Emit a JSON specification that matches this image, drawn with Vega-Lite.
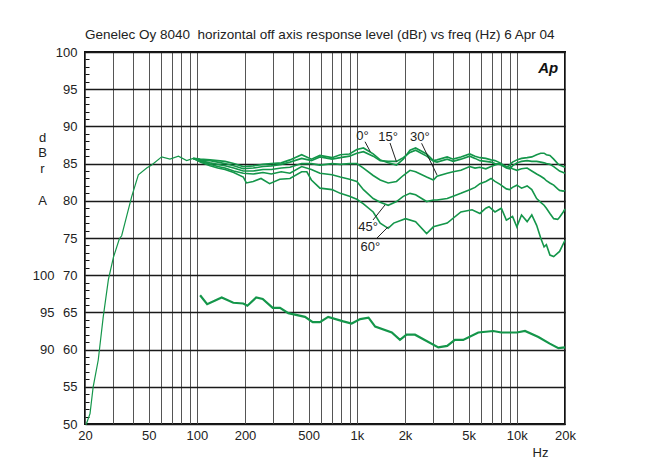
{
  "$schema": "https://vega.github.io/schema/vega-lite/v6.json",
  "width": 480,
  "height": 372,
  "autosize": {"type": "none"},
  "padding": {"left": 85, "top": 52, "right": 97, "bottom": 36},
  "background": "white",
  "config": {
    "view": {"stroke": "#111", "strokeWidth": 2},
    "font": "Liberation Sans",
    "axis": {"labelFont": "Liberation Sans", "titleFont": "Liberation Sans", "labelFontSize": 13, "titleFontSize": 13, "titleFontWeight": "normal", "labelColor": "#222", "titleColor": "#222"}
  },
  "title": {"text": "Genelec Oy 8040\u00a0 horizontal off axis response level (dBr) vs freq (Hz) 6 Apr 04", "anchor": "start", "frame": "group", "font": "Liberation Sans", "fontSize": 13.5, "fontWeight": "normal", "color": "#222", "offset": 5},
  "datasets": {
    "lf": [
      {"f": 20.3, "db": 49.9}, {"f": 21.5, "db": 51.4}, {"f": 22.5, "db": 55.0}, {"f": 24.2, "db": 58.6}, {"f": 26.0, "db": 64.4}, {"f": 28.0, "db": 69.4}, {"f": 30.1, "db": 72.4}, {"f": 32.8, "db": 74.9}, {"f": 33.9, "db": 75.3}, {"f": 36.4, "db": 77.9}, {"f": 39.2, "db": 80.6}, {"f": 43.1, "db": 83.5}, {"f": 48.6, "db": 84.4}, {"f": 52.2, "db": 84.8}, {"f": 60.3, "db": 85.9}, {"f": 67.9, "db": 85.6}, {"f": 76.7, "db": 86.0}, {"f": 86.4, "db": 85.4}, {"f": 95, "db": 85.7}
    ],
    "curves": [
      {"c":"0","f":95,"db":85.7},{"c":"0","f":105,"db":85.6},{"c":"0","f":121,"db":85.5},{"c":"0","f":135,"db":85.4},{"c":"0","f":150,"db":85.3},{"c":"0","f":170,"db":85.0},{"c":"0","f":195,"db":84.6},{"c":"0","f":225,"db":84.7},{"c":"0","f":259,"db":84.9},{"c":"0","f":292,"db":85.0},{"c":"0","f":337,"db":85.1},{"c":"0","f":382,"db":85.5},{"c":"0","f":452,"db":86.2},{"c":"0","f":520,"db":85.6},{"c":"0","f":588,"db":86.1},{"c":"0","f":700,"db":85.8},{"c":"0","f":788,"db":86.2},{"c":"0","f":900,"db":86.3},{"c":"0","f":1000,"db":86.9},{"c":"0","f":1100,"db":87.1},{"c":"0","f":1265,"db":86.3},{"c":"0","f":1400,"db":85.5},{"c":"0","f":1570,"db":85.1},{"c":"0","f":1770,"db":84.8},{"c":"0","f":1950,"db":85.6},{"c":"0","f":2150,"db":86.8},{"c":"0","f":2330,"db":87.1},{"c":"0","f":2730,"db":86.3},{"c":"0","f":3010,"db":85.4},{"c":"0","f":3170,"db":85.5},{"c":"0","f":3670,"db":85.9},{"c":"0","f":4000,"db":85.6},{"c":"0","f":4470,"db":85.9},{"c":"0","f":5080,"db":86.3},{"c":"0","f":5480,"db":86.0},{"c":"0","f":5880,"db":85.8},{"c":"0","f":6400,"db":85.7},{"c":"0","f":6900,"db":85.5},{"c":"0","f":7300,"db":85.4},{"c":"0","f":7860,"db":85.1},{"c":"0","f":8600,"db":84.5},{"c":"0","f":9000,"db":84.8},{"c":"0","f":9400,"db":85.2},{"c":"0","f":10000,"db":85.5},{"c":"0","f":10700,"db":85.7},{"c":"0","f":11600,"db":85.8},{"c":"0","f":12400,"db":85.9},{"c":"0","f":13300,"db":86.2},{"c":"0","f":14100,"db":86.4},{"c":"0","f":14800,"db":86.4},{"c":"0","f":15300,"db":86.2},{"c":"0","f":16100,"db":86.1},{"c":"0","f":17000,"db":85.6},{"c":"0","f":18000,"db":85.0},{"c":"0","f":18500,"db":84.8},{"c":"0","f":19500,"db":84.6},{"c":"0","f":20000,"db":84.5},
      {"c":"15","f":95,"db":85.7},{"c":"15","f":105,"db":85.5},{"c":"15","f":121,"db":85.4},{"c":"15","f":135,"db":85.2},{"c":"15","f":150,"db":85.0},{"c":"15","f":170,"db":84.7},{"c":"15","f":195,"db":84.3},{"c":"15","f":225,"db":84.4},{"c":"15","f":259,"db":84.6},{"c":"15","f":292,"db":84.7},{"c":"15","f":337,"db":84.9},{"c":"15","f":382,"db":85.2},{"c":"15","f":452,"db":85.7},{"c":"15","f":520,"db":85.4},{"c":"15","f":588,"db":85.9},{"c":"15","f":700,"db":85.6},{"c":"15","f":788,"db":85.8},{"c":"15","f":900,"db":86.0},{"c":"15","f":1000,"db":86.4},{"c":"15","f":1100,"db":86.6},{"c":"15","f":1265,"db":86.0},{"c":"15","f":1400,"db":85.4},{"c":"15","f":1570,"db":85.3},{"c":"15","f":1770,"db":85.3},{"c":"15","f":1950,"db":85.8},{"c":"15","f":2150,"db":86.5},{"c":"15","f":2330,"db":86.8},{"c":"15","f":2730,"db":86.0},{"c":"15","f":3010,"db":85.3},{"c":"15","f":3170,"db":85.2},{"c":"15","f":3670,"db":85.6},{"c":"15","f":4000,"db":85.3},{"c":"15","f":4470,"db":85.6},{"c":"15","f":5080,"db":86.0},{"c":"15","f":5480,"db":85.7},{"c":"15","f":5880,"db":85.4},{"c":"15","f":6400,"db":85.3},{"c":"15","f":6900,"db":85.2},{"c":"15","f":7300,"db":85.0},{"c":"15","f":7860,"db":84.9},{"c":"15","f":8600,"db":84.4},{"c":"15","f":9000,"db":84.3},{"c":"15","f":9400,"db":84.7},{"c":"15","f":10000,"db":85.1},{"c":"15","f":10700,"db":85.3},{"c":"15","f":11600,"db":85.4},{"c":"15","f":12400,"db":85.3},{"c":"15","f":13300,"db":85.3},{"c":"15","f":14100,"db":85.2},{"c":"15","f":14800,"db":85.1},{"c":"15","f":15300,"db":85.0},{"c":"15","f":16100,"db":84.9},{"c":"15","f":17000,"db":84.6},{"c":"15","f":18000,"db":84.2},{"c":"15","f":18500,"db":84.0},{"c":"15","f":19500,"db":83.8},{"c":"15","f":20000,"db":83.7},
      {"c":"30","f":95,"db":85.7},{"c":"30","f":105,"db":85.4},{"c":"30","f":121,"db":85.1},{"c":"30","f":135,"db":84.9},{"c":"30","f":150,"db":84.7},{"c":"30","f":170,"db":84.4},{"c":"30","f":195,"db":84.0},{"c":"30","f":225,"db":84.0},{"c":"30","f":259,"db":84.2},{"c":"30","f":292,"db":84.2},{"c":"30","f":337,"db":84.4},{"c":"30","f":382,"db":84.5},{"c":"30","f":452,"db":85.0},{"c":"30","f":520,"db":85.0},{"c":"30","f":588,"db":84.8},{"c":"30","f":700,"db":85.0},{"c":"30","f":788,"db":84.9},{"c":"30","f":900,"db":85.0},{"c":"30","f":1000,"db":85.0},{"c":"30","f":1100,"db":84.4},{"c":"30","f":1265,"db":83.4},{"c":"30","f":1400,"db":82.8},{"c":"30","f":1570,"db":82.4},{"c":"30","f":1770,"db":82.6},{"c":"30","f":1950,"db":83.4},{"c":"30","f":2150,"db":84.1},{"c":"30","f":2330,"db":83.9},{"c":"30","f":2730,"db":83.2},{"c":"30","f":3010,"db":82.8},{"c":"30","f":3170,"db":83.3},{"c":"30","f":3670,"db":83.7},{"c":"30","f":4000,"db":83.9},{"c":"30","f":4470,"db":84.1},{"c":"30","f":5080,"db":84.6},{"c":"30","f":5480,"db":84.4},{"c":"30","f":5880,"db":84.5},{"c":"30","f":6400,"db":84.3},{"c":"30","f":6900,"db":84.6},{"c":"30","f":7300,"db":84.8},{"c":"30","f":7860,"db":85.0},{"c":"30","f":8600,"db":84.6},{"c":"30","f":9000,"db":84.5},{"c":"30","f":9400,"db":84.3},{"c":"30","f":10000,"db":84.1},{"c":"30","f":10700,"db":84.3},{"c":"30","f":11600,"db":84.4},{"c":"30","f":12400,"db":84.0},{"c":"30","f":13300,"db":83.6},{"c":"30","f":14100,"db":83.3},{"c":"30","f":14800,"db":83.0},{"c":"30","f":15300,"db":82.7},{"c":"30","f":16100,"db":82.4},{"c":"30","f":17000,"db":82.1},{"c":"30","f":18000,"db":81.6},{"c":"30","f":18500,"db":81.4},{"c":"30","f":19500,"db":81.3},{"c":"30","f":20000,"db":81.4},
      {"c":"45","f":95,"db":85.7},{"c":"45","f":105,"db":85.3},{"c":"45","f":121,"db":84.9},{"c":"45","f":135,"db":84.6},{"c":"45","f":150,"db":84.4},{"c":"45","f":170,"db":84.0},{"c":"45","f":195,"db":83.7},{"c":"45","f":225,"db":83.6},{"c":"45","f":259,"db":83.8},{"c":"45","f":292,"db":83.6},{"c":"45","f":337,"db":83.9},{"c":"45","f":382,"db":83.7},{"c":"45","f":452,"db":84.6},{"c":"45","f":520,"db":84.2},{"c":"45","f":588,"db":83.7},{"c":"45","f":700,"db":83.5},{"c":"45","f":788,"db":83.2},{"c":"45","f":900,"db":82.9},{"c":"45","f":1000,"db":82.6},{"c":"45","f":1100,"db":81.5},{"c":"45","f":1265,"db":80.3},{"c":"45","f":1400,"db":79.8},{"c":"45","f":1570,"db":79.4},{"c":"45","f":1770,"db":79.9},{"c":"45","f":1950,"db":80.6},{"c":"45","f":2150,"db":81.0},{"c":"45","f":2330,"db":80.8},{"c":"45","f":2730,"db":79.9},{"c":"45","f":3010,"db":80.1},{"c":"45","f":3170,"db":80.1},{"c":"45","f":3670,"db":80.3},{"c":"45","f":4000,"db":80.6},{"c":"45","f":4470,"db":81.0},{"c":"45","f":5080,"db":81.5},{"c":"45","f":5480,"db":81.8},{"c":"45","f":5880,"db":82.3},{"c":"45","f":6400,"db":82.6},{"c":"45","f":6900,"db":83.0},{"c":"45","f":7300,"db":82.6},{"c":"45","f":7860,"db":82.2},{"c":"45","f":8600,"db":81.6},{"c":"45","f":9000,"db":81.5},{"c":"45","f":9400,"db":81.8},{"c":"45","f":10000,"db":82.1},{"c":"45","f":10700,"db":81.7},{"c":"45","f":11600,"db":82.0},{"c":"45","f":12400,"db":81.5},{"c":"45","f":13300,"db":80.3},{"c":"45","f":14100,"db":79.8},{"c":"45","f":14800,"db":79.4},{"c":"45","f":15300,"db":79.0},{"c":"45","f":16100,"db":78.3},{"c":"45","f":17000,"db":77.6},{"c":"45","f":18000,"db":77.5},{"c":"45","f":18500,"db":77.8},{"c":"45","f":19500,"db":78.5},{"c":"45","f":20000,"db":78.9},
      {"c":"60","f":95,"db":85.7},{"c":"60","f":105,"db":85.2},{"c":"60","f":121,"db":84.7},{"c":"60","f":135,"db":84.4},{"c":"60","f":150,"db":84.2},{"c":"60","f":170,"db":83.8},{"c":"60","f":195,"db":83.2},{"c":"60","f":204,"db":82.4},{"c":"60","f":225,"db":82.6},{"c":"60","f":252,"db":83.0},{"c":"60","f":285,"db":82.3},{"c":"60","f":330,"db":82.9},{"c":"60","f":382,"db":83.0},{"c":"60","f":452,"db":83.9},{"c":"60","f":487,"db":83.9},{"c":"60","f":520,"db":82.8},{"c":"60","f":588,"db":81.7},{"c":"60","f":700,"db":81.5},{"c":"60","f":788,"db":81.0},{"c":"60","f":900,"db":80.6},{"c":"60","f":1000,"db":80.2},{"c":"60","f":1100,"db":79.6},{"c":"60","f":1265,"db":78.5},{"c":"60","f":1400,"db":77.0},{"c":"60","f":1570,"db":76.3},{"c":"60","f":1700,"db":77.0},{"c":"60","f":2015,"db":77.6},{"c":"60","f":2330,"db":77.2},{"c":"60","f":2730,"db":75.6},{"c":"60","f":3010,"db":76.5},{"c":"60","f":3670,"db":77.0},{"c":"60","f":4470,"db":78.5},{"c":"60","f":5250,"db":78.8},{"c":"60","f":5880,"db":78.3},{"c":"60","f":6400,"db":79.0},{"c":"60","f":6700,"db":79.2},{"c":"60","f":7300,"db":78.5},{"c":"60","f":8000,"db":79.0},{"c":"60","f":8600,"db":77.4},{"c":"60","f":9400,"db":77.9},{"c":"60","f":10000,"db":76.5},{"c":"60","f":10700,"db":78.1},{"c":"60","f":11600,"db":77.2},{"c":"60","f":12400,"db":78.1},{"c":"60","f":13300,"db":76.7},{"c":"60","f":14100,"db":75.0},{"c":"60","f":14800,"db":73.8},{"c":"60","f":15300,"db":74.1},{"c":"60","f":16100,"db":72.7},{"c":"60","f":17000,"db":72.5},{"c":"60","f":18500,"db":73.2},{"c":"60","f":20000,"db":74.7}
    ],
    "lower": [
      {"f":104.8,"db":97.3},{"f":116,"db":96.1},{"f":143,"db":97.0},{"f":169,"db":96.3},{"f":195,"db":96.2},{"f":207,"db":95.9},{"f":235,"db":97.0},{"f":258,"db":96.8},{"f":298,"db":95.6},{"f":331,"db":95.6},{"f":373,"db":94.9},{"f":474,"db":94.4},{"f":530,"db":93.7},{"f":588,"db":93.7},{"f":662,"db":94.4},{"f":823,"db":93.8},{"f":928,"db":93.5},{"f":1050,"db":94.1},{"f":1183,"db":94.3},{"f":1302,"db":93.1},{"f":1654,"db":92.3},{"f":1860,"db":91.3},{"f":2045,"db":92.0},{"f":2310,"db":92.0},{"f":3230,"db":90.3},{"f":3670,"db":90.5},{"f":4100,"db":91.3},{"f":4620,"db":91.3},{"f":5740,"db":92.3},{"f":7120,"db":92.5},{"f":8000,"db":92.3},{"f":10000,"db":92.3},{"f":11250,"db":92.5},{"f":13640,"db":91.7},{"f":16060,"db":90.8},{"f":18200,"db":90.2},{"f":20000,"db":90.3}
    ],
    "labels": [
      {"t":"0°","f":1086,"db":88.7},{"t":"15°","f":1568,"db":88.6},{"t":"30°","f":2478,"db":88.6},{"t":"45°","f":1177,"db":76.5},{"t":"60°","f":1214,"db":73.8}
    ],
    "leaders": [
      {"f":1125,"db":87.94,"f2":1214,"db2":86.6},{"f":1612,"db":87.77,"f2":1768,"db2":85.26},{"f":2540,"db":87.73,"f2":3170,"db2":83.47},{"f":1262,"db":77.42,"f2":1500,"db2":79.44},{"f":1332,"db":74.96,"f2":1571,"db2":76.52}
    ],
    "logo": [{"t":"Ap","f":15700,"db":97.8}]
  },
  "layer": [
    {
      "encoding": {
        "x": {"field": "f", "type": "quantitative", "scale": {"type": "log", "domain": [20, 20000], "nice": false},
          "axis": {"values": [20,30,40,50,60,70,80,90,100,200,300,400,500,600,700,800,900,1000,2000,3000,4000,5000,6000,7000,8000,9000,10000,20000],
            "labelExpr": "indexof([20,50,100,200,500], datum.value) >= 0 ? datum.value + '' : (indexof([1000,2000,5000,10000,20000], datum.value) >= 0 ? (datum.value/1000) + 'k' : '')",
            "ticks": false, "domain": false, "grid": true, "gridColor": "#555", "gridWidth": 1, "labelPadding": 5, "labelOverlap": false, "labelFlush": false,
            "title": "Hz", "titleX": 455, "titleY": 22, "titleBaseline": "top", "titleAlign": "center"}},
        "y": {"field": "db", "type": "quantitative", "scale": {"domain": [50, 100], "nice": false, "zero": false},
          "axis": {"values": [50,55,60,65,70,75,80,85,90,95,100], "ticks": false, "domain": false, "grid": true, "gridColor": "#1a1a1a", "gridWidth": 1.4, "labelPadding": 8, "labelOverlap": false,
            "title": ["d","B","r"], "titleAngle": 0, "titleAlign": "center", "titleBaseline": "top", "titleX": -43, "titleY": 79, "titleLineHeight": 15.8}}
      },
      "layer": [
        {"data": {"name": "lf"}, "mark": {"type": "line", "color": "#14964a", "strokeWidth": 1.2}},
        {"data": {"name": "curves"}, "mark": {"type": "line", "color": "#14964a", "strokeWidth": 1.6}, "encoding": {"detail": {"field": "c"}}},
        {"data": {"name": "leaders"}, "mark": {"type": "rule", "color": "#222", "strokeWidth": 1}, "encoding": {"x2": {"field": "f2"}, "y2": {"field": "db2"}}},
        {"data": {"name": "labels"}, "mark": {"type": "text", "fontSize": 13, "color": "#222", "font": "Liberation Sans", "align": "center", "baseline": "middle"}, "encoding": {"text": {"field": "t"}}},
        {"data": {"name": "logo"}, "mark": {"type": "text", "fontSize": 15, "fontStyle": "italic", "fontWeight": "bold", "color": "#111", "font": "Liberation Sans", "align": "center", "baseline": "middle"}, "encoding": {"text": {"field": "t"}}}
      ]
    },
    {
      "data": {"name": "lower"},
      "mark": {"type": "line", "color": "#14964a", "strokeWidth": 2.2},
      "encoding": {
        "x": {"field": "f", "type": "quantitative", "scale": {"type": "log", "domain": [20, 20000], "nice": false},
          "axis": {"values": [20,30,40,50,60,70,80,90,100,200,300,400,500,600,700,800,900,1000,2000,3000,4000,5000,6000,7000,8000,9000,10000,20000],
            "labelExpr": "indexof([20,50,100,200,500], datum.value) >= 0 ? datum.value + '' : (indexof([1000,2000,5000,10000,20000], datum.value) >= 0 ? (datum.value/1000) + 'k' : '')",
            "ticks": false, "domain": false, "grid": true, "gridColor": "#555", "gridWidth": 1, "labelPadding": 5, "labelOverlap": false, "labelFlush": false,
            "title": "Hz", "titleX": 455, "titleY": 22, "titleBaseline": "top", "titleAlign": "center"}},
        "y": {"field": "db", "type": "quantitative", "scale": {"domain": [80, 130], "nice": false, "zero": false},
          "axis": {"orient": "left", "offset": -4, "values": [80,81,82,83,84,85,86,87,88,89,90,91,92,93,94,95,96,97,98,99,100,101,102,103,104,105,106,107,108,109,110,111,112,113,114,115,116,117,118,119,120,121,122,123,124,125,126,127,128,129,130],
            "labelExpr": "indexof([90,95,100], datum.value) >= 0 ? datum.value + '' : ''",
            "ticks": true, "tickSize": 4, "tickColor": "#111", "tickWidth": 1, "domain": false, "grid": false, "labelPadding": 31, "labelOverlap": false,
            "title": "A", "titleAngle": 0, "titleAlign": "center", "titleBaseline": "top", "titleX": -47, "titleY": 142.2}}
      }
    }
  ],
  "resolve": {"scale": {"y": "independent"}}
}
